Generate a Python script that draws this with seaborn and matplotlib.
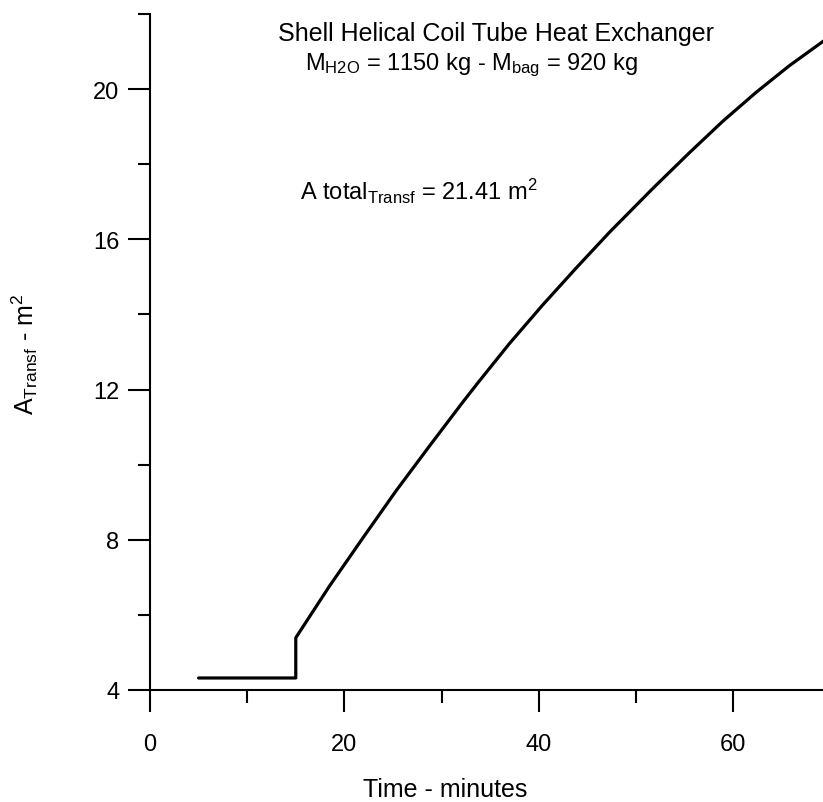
import matplotlib
matplotlib.use("Agg")
import matplotlib.pyplot as plt
import seaborn as sns
import pandas as pd

# Data
time_min = [5, 15, 15, 18.45, 21.88, 25.31, 28.74, 32.17, 33.71, 36.97, 40.40,
            43.83, 47.25, 51.72, 55.48, 58.92, 62.35, 65.77, 70]
area_m2 = [4.32, 4.32, 5.39, 6.76, 8.04, 9.30, 10.49, 11.66, 12.17, 13.22, 14.25,
           15.23, 16.18, 17.35, 18.30, 19.14, 19.91, 20.62, 21.41]

x_major = [0, 20, 40, 60]
x_minor = [10, 30, 50]
y_major = [4, 8, 12, 16, 20]
y_minor = [6, 10, 14, 18, 22]

title_line1 = "Shell Helical Coil Tube Heat Exchanger"
title_line2 = r"M$_{\mathrm{H2O}}$ = 1150 kg - M$_{\mathrm{bag}}$ = 920 kg"
total_text = r"A total$_{\mathrm{Transf}}$ = 21.41 m$^{2}$"
xlabel = "Time - minutes"
ylabel = r"A$_{\mathrm{Transf}}$ - m$^{2}$"

sns.set_theme(style="ticks")
plt.rcParams['font.family'] = ['Liberation Sans', 'DejaVu Sans']
plt.rcParams['mathtext.fontset'] = 'custom'
plt.rcParams['mathtext.rm'] = 'Liberation Sans'
plt.rcParams['mathtext.it'] = 'Liberation Sans:italic'
plt.rcParams['mathtext.bf'] = 'Liberation Sans:bold'
plt.rcParams['text.color'] = 'black'

W, H = 823, 803
fig = plt.figure(figsize=(W / 100, H / 100), dpi=100)
ax = fig.add_axes([150 / W, 1 - 691 / H, (W - 150) / W, (691 - 15) / H])

df = pd.DataFrame({"t": time_min, "A": area_m2})
sns.lineplot(data=df, x="t", y="A", ax=ax, color="black", linewidth=2.3,
             sort=False, estimator=None)

ax.set_xlim(0, 69.25)
ax.set_ylim(4, 22)
ax.set_xticks(x_major)
ax.set_xticks(x_minor, minor=True)
ax.set_yticks(y_major)
ax.set_yticks(y_minor, minor=True)

for s in ["top", "right"]:
    ax.spines[s].set_visible(False)
for s in ["left", "bottom"]:
    ax.spines[s].set_linewidth(1.5)
    ax.spines[s].set_color("black")

ax.tick_params(axis="both", which="major", length=16, width=1.5, color="black",
               labelsize=17, labelcolor="black")
ax.tick_params(axis="both", which="minor", length=9, width=1.5, color="black")
ax.tick_params(axis="x", which="major", pad=15)
ax.tick_params(axis="y", which="major", pad=6)
ax.set_xlabel("")
ax.set_ylabel("")
ax.grid(False)

fig.text(445 / W, 1 - 790 / H, xlabel, ha="center", va="center", fontsize=18, color="black")
fig.text(25 / W, 1 - 354 / H, ylabel, ha="center", va="center", fontsize=18,
         rotation=90, color="black")

fig.text(278 / W, 1 - 41 / H, title_line1, ha="left", va="baseline", fontsize=18, color="black")
fig.text(305 / W, 1 - 70 / H, title_line2, ha="left", va="baseline", fontsize=17, color="black")
fig.text(300 / W, 1 - 200 / H, total_text, ha="left", va="baseline", fontsize=17, color="black")

fig.savefig("out.png", dpi=100, facecolor="white")
